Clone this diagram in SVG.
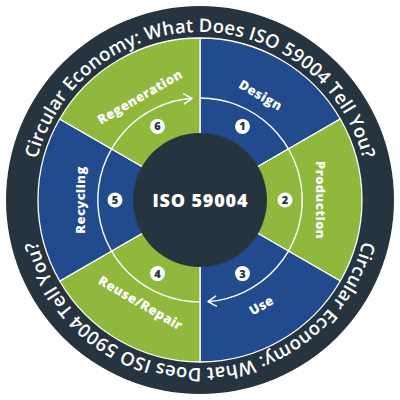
<svg xmlns="http://www.w3.org/2000/svg" width="400" height="400" viewBox="0 0 400 400">
  <style>
    .ring { fill: #26343f; }
    .blue { fill: #214b8d; stroke: #ffffff; stroke-width: 1.3; }
    .green { fill: #90b83c; stroke: #ffffff; stroke-width: 1.3; }
    .lbl { font-family: "Open Sans", "Noto Sans", sans-serif; font-weight: 800; font-size: 13px; fill: #ffffff; text-anchor: middle; letter-spacing: 0.4px; }
    .num { fill: #ffffff; }
    .numt { font-family: "Open Sans", "Noto Sans", sans-serif; font-weight: 800; font-size: 11px; fill: #26343f; text-anchor: middle; }
    .outer { font-family: "Open Sans", "Noto Sans", sans-serif; font-weight: 600; font-size: 18.5px; fill: #ffffff; }
    .track { fill: none; stroke: #ffffff; stroke-width: 1.4; }
    .core { fill: #26343f; }
    .coret { font-family: "Open Sans", "Noto Sans", sans-serif; font-weight: 800; font-size: 18px; fill: #ffffff; text-anchor: middle; }
  </style>
  <defs>
    <path id="topArc" d="M200,368 A168,168 0 1 1 200,32 A168,168 0 1 1 200,368"/>
    <path id="botArc" d="M200,32 A168,168 0 1 1 200,368 A168,168 0 1 1 200,32"/>
    <marker id="chev" markerUnits="userSpaceOnUse" markerWidth="20" markerHeight="20" refX="0" refY="0" viewBox="-10 -10 20 20" orient="auto" overflow="visible">
      <path d="M-8,-5 L0,0 L-8,5" fill="none" stroke="#ffffff" stroke-width="1.5" stroke-linecap="round" stroke-linejoin="round"/>
    </marker>
  </defs>

  <g id="outer-ring">
    <circle class="ring" cx="200" cy="200" r="194"/>
    <text class="outer"><textPath href="#topArc" startOffset="50%" text-anchor="middle" textLength="445" lengthAdjust="spacing">Circular Economy: What Does ISO 59004 Tell You?</textPath></text>
    <text class="outer"><textPath href="#botArc" startOffset="50%" text-anchor="middle" textLength="445" lengthAdjust="spacing">Circular Economy: What Does ISO 59004 Tell You?</textPath></text>
  </g>

  <g id="design">
    <path class="blue" d="M200,200 L200,38 A162,162 0 0 1 340.3,119 Z"/>
    <text class="lbl" transform="translate(260.5,95.2) rotate(30)" y="4.5">Design</text>
  </g>
  <g id="production">
    <path class="green" d="M200,200 L340.3,119 A162,162 0 0 1 340.3,281 Z"/>
    <text class="lbl" transform="translate(320,200) rotate(90)" y="4.5">Production</text>
  </g>
  <g id="use">
    <path class="blue" d="M200,200 L340.3,281 A162,162 0 0 1 200,362 Z"/>
    <text class="lbl" transform="translate(261.5,305.5) rotate(-30)" y="4.5">Use</text>
  </g>
  <g id="reuse-repair">
    <path class="green" d="M200,200 L200,362 A162,162 0 0 1 59.7,281 Z"/>
    <text class="lbl" transform="translate(140.5,303) rotate(30)" y="4.5">Reuse/Repair</text>
  </g>
  <g id="recycling">
    <path class="blue" d="M200,200 L59.7,281 A162,162 0 0 1 59.7,119 Z"/>
    <text class="lbl" transform="translate(80,200) rotate(-90)" y="4.5">Recycling</text>
  </g>
  <g id="regeneration">
    <path class="green" d="M200,200 L59.7,119 A162,162 0 0 1 200,38 Z"/>
    <text class="lbl" transform="translate(140,97) rotate(-30)" y="4.5">Regeneration</text>
  </g>

  <g id="connectors">
    <path class="track" d="M200,98 A102,102 0 0 1 208,301.7" marker-end="url(#chev)"/>
    <path class="track" d="M200,302 A102,102 0 0 1 192,98.3" marker-end="url(#chev)"/>
  </g>

  <g id="core">
    <circle class="core" cx="200" cy="200" r="67"/>
    <text class="coret" x="200" y="206.5" textLength="95" lengthAdjust="spacing">ISO 59004</text>
  </g>

  <g id="step-1"><circle class="num" cx="242.5" cy="126.4" r="7.5"/><text class="numt" x="242.5" y="130.3">1</text></g>
  <g id="step-2"><circle class="num" cx="285" cy="200" r="7.5"/><text class="numt" x="285" y="203.9">2</text></g>
  <g id="step-3"><circle class="num" cx="242.5" cy="273.6" r="7.5"/><text class="numt" x="242.5" y="277.5">3</text></g>
  <g id="step-4"><circle class="num" cx="157.5" cy="273.6" r="7.5"/><text class="numt" x="157.5" y="277.5">4</text></g>
  <g id="step-5"><circle class="num" cx="115" cy="200" r="7.5"/><text class="numt" x="115" y="203.9">5</text></g>
  <g id="step-6"><circle class="num" cx="157.5" cy="126.4" r="7.5"/><text class="numt" x="157.5" y="130.3">6</text></g>
</svg>
